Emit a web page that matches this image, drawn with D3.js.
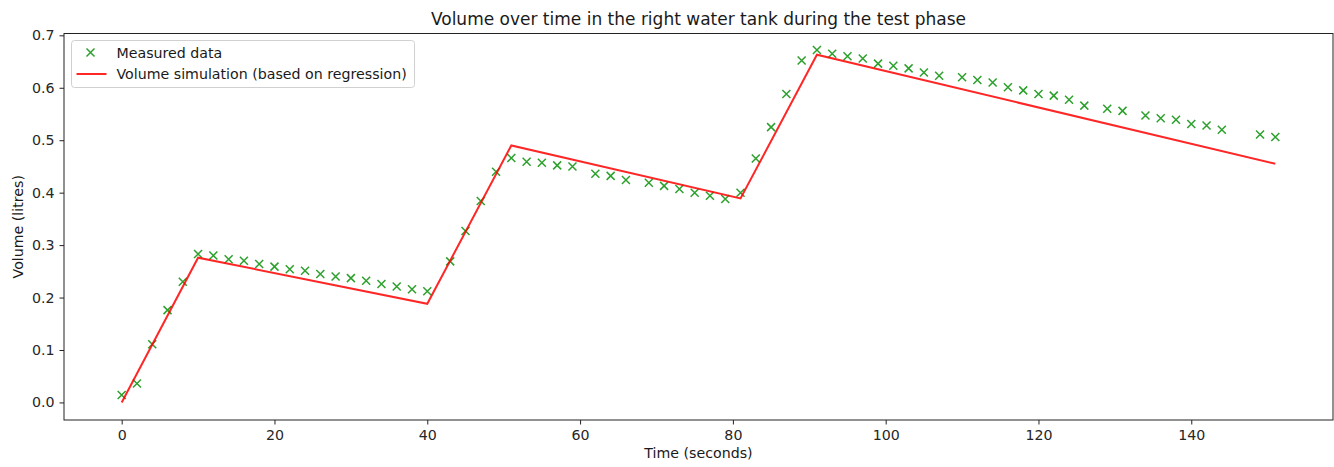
<html>
<head>
<script src="https://d3js.org/d3.v7.min.js"></script>
<style>
  body { margin: 0; background: #fff; }
  text { font-family: "DejaVu Sans", sans-serif; fill: #1a1a1a; }
</style>
</head>
<body>
<svg width="1334" height="467"></svg>
<script>
// measured points (time in s, volume in litres)
var measuredTime = [0, 2, 4, 6, 8, 10, 12, 14, 16, 18, 20, 22, 24, 26, 28, 30, 32, 34, 36, 38, 40,
    43, 45, 47, 49, 51, 53, 55, 57, 59, 62, 64, 66, 69, 71, 73, 75, 77, 79, 81,
    83, 85, 87, 89, 91, 93, 95, 97, 99, 101, 103, 105, 107, 110, 112, 114, 116, 118, 120,
    122, 124, 126, 129, 131, 134, 136, 138, 140, 142, 144, 149, 151];
var measuredVolume = [0.014, 0.036, 0.111, 0.176, 0.230, 0.283, 0.280, 0.273, 0.270, 0.264, 0.259, 0.254, 0.251, 0.245, 0.240, 0.237, 0.232, 0.226, 0.221, 0.216, 0.212,
    0.269, 0.327, 0.384, 0.440, 0.466, 0.459, 0.457, 0.452, 0.450, 0.436, 0.432, 0.424, 0.419, 0.413, 0.407, 0.400, 0.394, 0.388, 0.400,
    0.465, 0.525, 0.588, 0.652, 0.672, 0.665, 0.660, 0.656, 0.646, 0.642, 0.637, 0.629, 0.623, 0.620, 0.615, 0.610, 0.601, 0.595, 0.588,
    0.585, 0.577, 0.566, 0.560, 0.556, 0.547, 0.542, 0.539, 0.531, 0.528, 0.520, 0.511, 0.506];

// regression simulation, breakpoints of the piecewise line
var simTime = [0, 10, 40, 51, 81, 91, 151];
var simVolume = [0.0, 0.276, 0.188, 0.490, 0.389, 0.663, 0.455];

var xTicks = [0, 20, 40, 60, 80, 100, 120, 140];
var yTicks = [0.0, 0.1, 0.2, 0.3, 0.4, 0.5, 0.6, 0.7];

// plot area (note: "top" is reserved on window)
var mLeft = 64, mRight = 1333, mTop = 33.5, mBottom = 420;

var x = d3.scaleLinear().domain([-7.55, 158.55]).range([mLeft, mRight]);
var y = d3.scaleLinear().domain([-0.0335, 0.7035]).range([mBottom, mTop]);

var svg = d3.select("svg");

var measured = measuredTime.map(function(t, i) { return {t: t, v: measuredVolume[i]}; });
var sim = simTime.map(function(t, i) { return {t: t, v: simVolume[i]}; });

function cross(cx, cy, r) {
    return "M" + (cx - r) + "," + (cy - r) + "L" + (cx + r) + "," + (cy + r) +
           "M" + (cx - r) + "," + (cy + r) + "L" + (cx + r) + "," + (cy - r);
}

// markers
svg.append("g").selectAll("path")
    .data(measured)
    .enter().append("path")
    .attr("d", function(d) { return cross(x(d.t), y(d.v), 4); })
    .style("stroke", "#2ca02c")
    .style("stroke-width", "1.5px")
    .style("fill", "none");

// simulation line
var simLine = d3.line()
    .x(function(d) { return x(d.t); })
    .y(function(d) { return y(d.v); });

svg.append("path")
    .datum(sim)
    .attr("d", simLine)
    .style("stroke", "#ff0000")
    .style("stroke-opacity", 0.85)
    .style("stroke-width", "2px")
    .style("fill", "none");

// axes
var xAxis = svg.append("g")
    .attr("transform", "translate(0," + mBottom + ")")
    .call(d3.axisBottom(x).tickValues(xTicks).tickSize(4.5).tickPadding(5).tickFormat(d3.format("d")));
var yAxis = svg.append("g")
    .attr("transform", "translate(" + mLeft + ",0)")
    .call(d3.axisLeft(y).tickValues(yTicks).tickSize(4.5).tickPadding(5).tickFormat(d3.format(".1f")));

[xAxis, yAxis].forEach(function(a) {
    a.select(".domain").remove();
    a.selectAll("line").style("stroke", "#222").style("stroke-width", "1px");
    a.selectAll("text").style("font-family", "DejaVu Sans").style("font-size", "14.2px").style("fill", "#262626");
});

// frame
svg.append("rect")
    .attr("x", mLeft).attr("y", mTop)
    .attr("width", mRight - mLeft).attr("height", mBottom - mTop)
    .style("fill", "none").style("stroke", "#222").style("stroke-width", "1px");

// title and labels
svg.append("text")
    .attr("x", (mLeft + mRight) / 2).attr("y", 25)
    .attr("text-anchor", "middle")
    .style("font-size", "17px")
    .text("Volume over time in the right water tank during the test phase");

svg.append("text")
    .attr("x", (mLeft + mRight) / 2).attr("y", 458)
    .attr("text-anchor", "middle")
    .style("font-size", "14.2px")
    .text("Time (seconds)");

svg.append("text")
    .attr("transform", "translate(23," + ((mTop + mBottom) / 2) + ") rotate(-90)")
    .attr("text-anchor", "middle")
    .style("font-size", "14.2px")
    .text("Volume (litres)");

// legend
var legend = svg.append("g").attr("transform", "translate(71.5,40.5)");
legend.append("rect")
    .attr("width", 343).attr("height", 47).attr("rx", 3)
    .style("fill", "#fff").style("fill-opacity", 0.8)
    .style("stroke", "#d0d0d0").style("stroke-width", "1px");
legend.append("path")
    .attr("d", cross(19, 12, 4))
    .style("stroke", "#2ca02c").style("stroke-width", "1.5px").style("fill", "none");
legend.append("line")
    .attr("x1", 5).attr("x2", 35).attr("y1", 33.5).attr("y2", 33.5)
    .style("stroke", "#ff0000").style("stroke-opacity", 0.85).style("stroke-width", "2px");
legend.append("text").attr("x", 45).attr("y", 17).style("font-size", "14.2px").text("Measured data");
legend.append("text").attr("x", 45).attr("y", 38.5).style("font-size", "14.2px").text("Volume simulation (based on regression)");
</script>
</body>
</html>
